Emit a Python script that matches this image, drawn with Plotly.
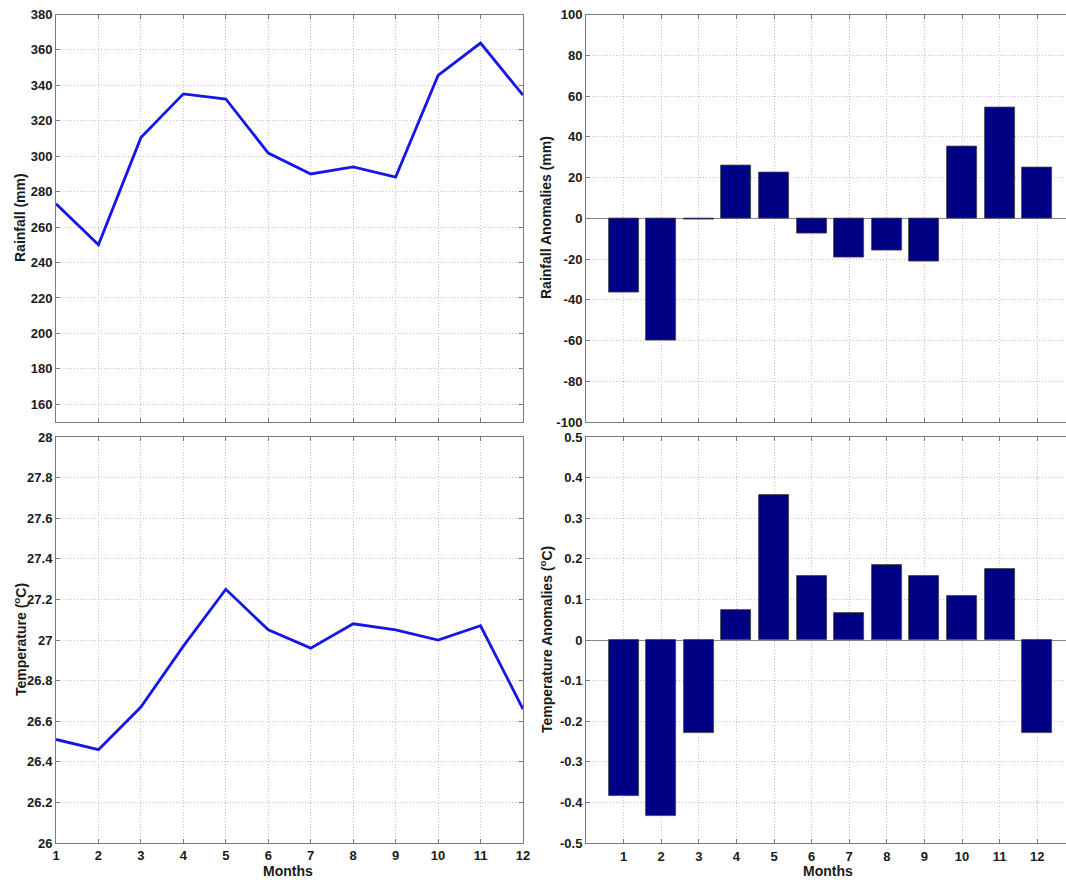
import plotly.graph_objects as go

# Monthly climatology and anomalies
months = list(range(1, 13))
rainfall_mm = [273.2, 250.0, 310.5, 335.2, 332.3, 301.8, 290.0, 294.0, 288.2, 345.6, 363.9, 334.5]
temperature_c = [26.51, 26.46, 26.67, 26.97, 27.25, 27.05, 26.96, 27.08, 27.05, 27.00, 27.07, 26.66]
rain_anom_mm = [-36.3, -60.0, -0.8, 25.7, 22.6, -7.5, -19.3, -15.9, -21.1, 35.2, 54.5, 25.0]
temp_anom_c = [-0.383, -0.433, -0.230, 0.075, 0.358, 0.157, 0.067, 0.184, 0.157, 0.109, 0.176, -0.230]

# Tick labels
rain_ticks = list(range(160, 381, 20))
rain_ticktext = [str(v) for v in rain_ticks]
temp_ticks = [26.0, 26.2, 26.4, 26.6, 26.8, 27.0, 27.2, 27.4, 27.6, 27.8, 28.0]
temp_ticktext = ["26", "26.2", "26.4", "26.6", "26.8", "27", "27.2", "27.4", "27.6", "27.8", "28"]
ranom_ticks = list(range(-100, 101, 20))
ranom_ticktext = [str(v) for v in ranom_ticks]
tanom_ticks = [-0.5, -0.4, -0.3, -0.2, -0.1, 0.0, 0.1, 0.2, 0.3, 0.4, 0.5]
tanom_ticktext = ["-0.5", "-0.4", "-0.3", "-0.2", "-0.1", "0", "0.1", "0.2", "0.3", "0.4", "0.5"]
month_ticktext = [str(m) for m in months]

W, H = 1066, 880
FONT = "Liberation Sans, Arial, sans-serif"
LINE_BLUE = "rgb(22,22,230)"
BAR_NAVY = "#000084"
AX = "#7a7a7a"
GRID = "#c4c4c4"
GRID_DASH = "1px,2px"

def px_x(p):
    return p / W

def px_y(p):
    return 1 - p / H

left_dom = [px_x(56), px_x(523)]
right_dom = [px_x(586.0), 1.0]
top_dom = [px_y(422), px_y(14.5)]
bot_dom = [px_y(843), px_y(437)]

fig = go.Figure()

fig.add_trace(go.Scatter(x=months, y=rainfall_mm, mode="lines",
                         line=dict(color=LINE_BLUE, width=2.8),
                         xaxis="x", yaxis="y", showlegend=False))
fig.add_trace(go.Bar(x=months, y=rain_anom_mm, width=0.8,
                     marker=dict(color=BAR_NAVY, line=dict(color="#404040", width=0.8)),
                     xaxis="x2", yaxis="y2", showlegend=False))
fig.add_trace(go.Scatter(x=months, y=temperature_c, mode="lines",
                         line=dict(color=LINE_BLUE, width=2.8),
                         xaxis="x3", yaxis="y3", showlegend=False))
fig.add_trace(go.Bar(x=months, y=temp_anom_c, width=0.8,
                     marker=dict(color=BAR_NAVY, line=dict(color="#404040", width=0.8)),
                     xaxis="x4", yaxis="y4", showlegend=False))

tickfont = dict(family=FONT, size=13, color="#1a1a1a", weight="bold")

def xaxis(domain, anchor, rng, labels, standoff=0):
    return dict(domain=domain, anchor=anchor, range=rng, automargin=False,
                tickmode="array", tickvals=months, ticktext=month_ticktext,
                showticklabels=labels, ticks="inside", ticklen=4, tickcolor=AX,
                ticklabelstandoff=standoff,
                showline=True, linecolor=AX, linewidth=1, mirror="ticks",
                showgrid=True, gridcolor=GRID, griddash=GRID_DASH, gridwidth=1,
                zeroline=False, tickfont=tickfont)

def yaxis(domain, anchor, rng, vals, text, mirror=True, zero=False):
    return dict(domain=domain, anchor=anchor, range=rng, automargin=False,
                tickmode="array", tickvals=vals, ticktext=text,
                ticks="inside", ticklen=4, tickcolor=AX,
                showline=True, linecolor=AX, linewidth=1,
                mirror="ticks" if mirror else False,
                showgrid=True, gridcolor=GRID, griddash=GRID_DASH, gridwidth=1,
                zeroline=zero, zerolinecolor="#8a8a8a", zerolinewidth=1,
                tickfont=tickfont)

# Right-hand panels run past the page edge, as in a cropped figure
right_max = (W - 586.0) / 37.6

fig.update_layout(
    width=W, height=H,
    margin=dict(l=0, r=0, t=0, b=0),
    paper_bgcolor="white", plot_bgcolor="white",
    font=dict(family=FONT),
    bargap=0,
    xaxis=xaxis(left_dom, "y", [1, 12], False),
    yaxis=yaxis(top_dom, "x", [150, 380], rain_ticks, rain_ticktext),
    xaxis2=xaxis(right_dom, "y2", [0, right_max], False),
    yaxis2=yaxis(top_dom, "x2", [-100, 100], ranom_ticks, ranom_ticktext, mirror=False, zero=True),
    xaxis3=xaxis(left_dom, "y3", [1, 12], True, standoff=0),
    yaxis3=yaxis(bot_dom, "x3", [26, 28], temp_ticks, temp_ticktext),
    xaxis4=xaxis(right_dom, "y4", [0, right_max], True, standoff=1),
    yaxis4=yaxis(bot_dom, "x4", [-0.5, 0.5], tanom_ticks, tanom_ticktext, mirror=False, zero=True),
)

title_font = dict(family=FONT, size=14, color="#1a1a1a")

def label(text, x, y, angle=0):
    fig.add_annotation(text=f"<b>{text}</b>", x=px_x(x), y=px_y(y), xref="paper", yref="paper",
                       showarrow=False, textangle=angle, font=title_font,
                       xanchor="center", yanchor="middle", borderpad=0)

label("Rainfall (mm)", 20, 218, -90)
label("Temperature (<sup>o</sup>C)", 20, 640, -90)
label("Rainfall Anomalies (mm)", 546, 218, -90)
label("Temperature Anomalies (<sup>o</sup>C)", 546, 640, -90)
label("Months", 288, 871)
label("Months", 828, 871)

fig.write_html("out.html")
